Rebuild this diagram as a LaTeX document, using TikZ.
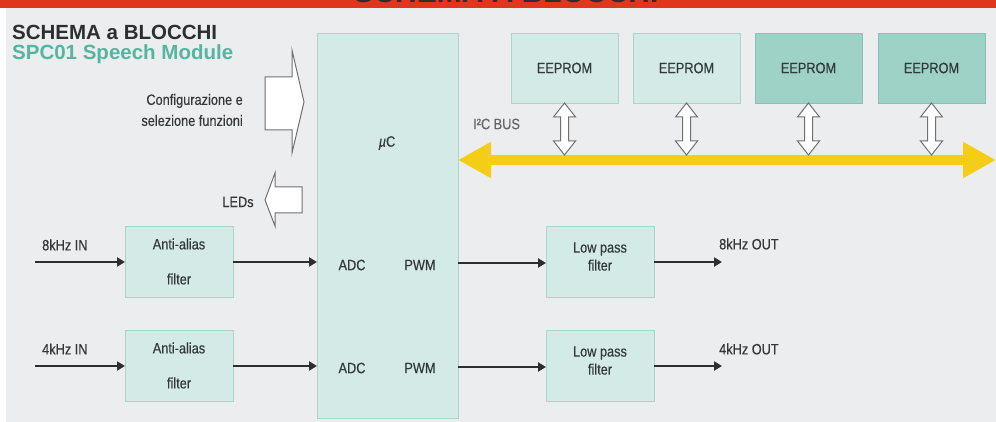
\documentclass[tikz,border=0pt]{standalone}
\usepackage{fontspec}
\setmainfont{Liberation Sans}
\newfontfamily\condsf[FakeStretch=0.85, FakeBold=0.4]{Liberation Sans}
\usetikzlibrary{positioning, calc, arrows.meta}
\definecolor{Paper}{HTML}{ECEDEF}
\definecolor{Banner}{HTML}{E1361E}
\definecolor{Ink}{HTML}{33393A}
\definecolor{Teal}{HTML}{55B5A0}
\definecolor{BoxFill}{HTML}{D4EAE6}
\definecolor{BoxLine}{HTML}{A8D5CC}
\definecolor{BoxDark}{HTML}{9FD2C7}
\definecolor{BoxDarkLine}{HTML}{86C3B7}
\definecolor{Wire}{HTML}{2E2E2E}
\definecolor{Outline}{HTML}{707070}
\definecolor{BusYellow}{HTML}{F4CD17}
\tikzset{
    box/.style={rectangle, draw=BoxLine, fill=BoxFill, line width=0.9pt, inner sep=0pt, outer sep=0pt,
        minimum width=108pt, minimum height=71pt, align=center, text=Ink,
        font=\condsf\fontsize{15}{18}\selectfont},
    darkbox/.style={box, draw=BoxDarkLine, fill=BoxDark},
    lbl/.style={inner sep=0pt, text=Ink, font=\condsf\fontsize{15}{18}\selectfont},
    sig/.style={-{Triangle[length=8pt,width=9pt]}, line width=2.6pt, color=Wire},
    hollow/.style={fill=white, draw=Outline, line width=1pt, line join=miter},
    bus/.style={{Triangle[length=33pt,width=34pt]}-{Triangle[length=33pt,width=34pt]}, line width=10pt, color=BusYellow},
}
\begin{document}
\begin{tikzpicture}[x=1pt, y=-1pt]
    \useasboundingbox (0,0) rectangle (996,422);
    % fondo e fascia rossa
    \fill[white] (0,0) rectangle (996,422);
    \fill[Paper] (6,8) rectangle (996,422);
    \fill[Banner] (0,0) rectangle (996,8);
    \begin{scope}
        \clip (0,0) rectangle (996,8);
        \node[anchor=base, inner sep=0pt, font=\bfseries\fontsize{30}{30}\selectfont, text=Wire] (banner) at (506,3) {SCHEMA A BLOCCHI};
    \end{scope}

    % titoli
    \node[anchor=base west, inner sep=0pt, font=\bfseries\fontsize{20.5}{24}\selectfont, text=Wire] (title) at (12,40) {SCHEMA a BLOCCHI};
    \node[anchor=base west, inner sep=0pt, font=\bfseries\fontsize{20.5}{24}\selectfont, text=Teal] (subtitle) at (12,60) {SPC01 Speech Module};

    % microcontrollore
    \node[box, anchor=north west, minimum width=141pt, minimum height=385pt] (uc) at (317,33) {};
    \node[lbl] (ucname) at (387,143) {\itshape µ\upshape C};
    \node[lbl] (adc1) at (352,265) {ADC};
    \node[lbl] (pwm1) at (420,265) {PWM};
    \node[lbl] (adc2) at (352,368) {ADC};
    \node[lbl] (pwm2) at (420,368) {PWM};

    % frecce di configurazione e LED
    \draw[hollow] (265,77) -- (292,77) -- (292,50) -- (304,102) -- (292,153) -- (292,130) -- (265,130) -- cycle;
    \node[lbl, align=right, anchor=east, font=\condsf\fontsize{15}{21}\selectfont] (config) at (243,110) {Configurazione e\\selezione funzioni};
    \draw[hollow] (302,187) -- (275,187) -- (275,173) -- (265,200) -- (275,226) -- (275,213) -- (302,213) -- cycle;
    \node[lbl] (leds) at (238,202) {LEDs};

    % filtri
    \node[box, anchor=north west] (aa1) at (125,226) {Anti-alias\\[17pt]filter};
    \node[box, anchor=north west] (aa2) at (125,330) {Anti-alias\\[17pt]filter};
    \node[box, anchor=north west, label={[lbl, align=center, yshift=5pt]center:Low pass\\filter}] (lp1) at (546,226) {};
    \node[box, anchor=north west, label={[lbl, align=center, yshift=5pt]center:Low pass\\filter}] (lp2) at (546,330) {};

    % ingressi e uscite
    \coordinate (in8) at (35,262);
    \coordinate (in4) at (35,366);
    \coordinate (out8) at (722,262);
    \coordinate (out4) at (722,366);
    \node[lbl, anchor=west] (in8lbl) at (42,245) {8kHz IN};
    \node[lbl, anchor=west] (in4lbl) at (42,349) {4kHz IN};
    \node[lbl, anchor=west] (out8lbl) at (719,244) {8kHz OUT};
    \node[lbl, anchor=west] (out4lbl) at (719,349) {4kHz OUT};

    \draw[sig] (in8) -- (aa1.west |- in8);
    \draw[sig] (in4) -- (aa2.west |- in4);
    \draw[sig] (aa1.east |- in8) -- (uc.west |- in8);
    \draw[sig] (aa2.east |- in4) -- (uc.west |- in4);
    \draw[sig] (uc.east |- 0,263) -- (lp1.west |- 0,263);
    \draw[sig] (uc.east |- 0,367) -- (lp2.west |- 0,367);
    \draw[sig] (lp1.east |- out8) -- (out8);
    \draw[sig] (lp2.east |- out4) -- (out4);

    % bus I2C con le EEPROM
    \coordinate (busend) at (996,160);
    \draw[bus] (uc.east |- busend) -- (busend);
    \node[lbl, anchor=west, text=Outline!90!black] (buslbl) at (473,124) {I²C BUS};
    \foreach \i/\cx/\kind in {1/564.5/box, 2/686.5/box, 3/808.5/darkbox, 4/931.5/darkbox} {
        \node[\kind, minimum width=107pt, minimum height=70pt] (e\i) at (\cx,68) {EEPROM};
        \draw[hollow] (e\i.south) -- ++(11,14) -- ++(-7,0) -- ++(0,24) -- ++(7,0) -- ++(-11,14)
            -- ++(-11,-14) -- ++(7,0) -- ++(0,-24) -- ++(-7,0) -- cycle;
    }
\end{tikzpicture}
\end{document}
